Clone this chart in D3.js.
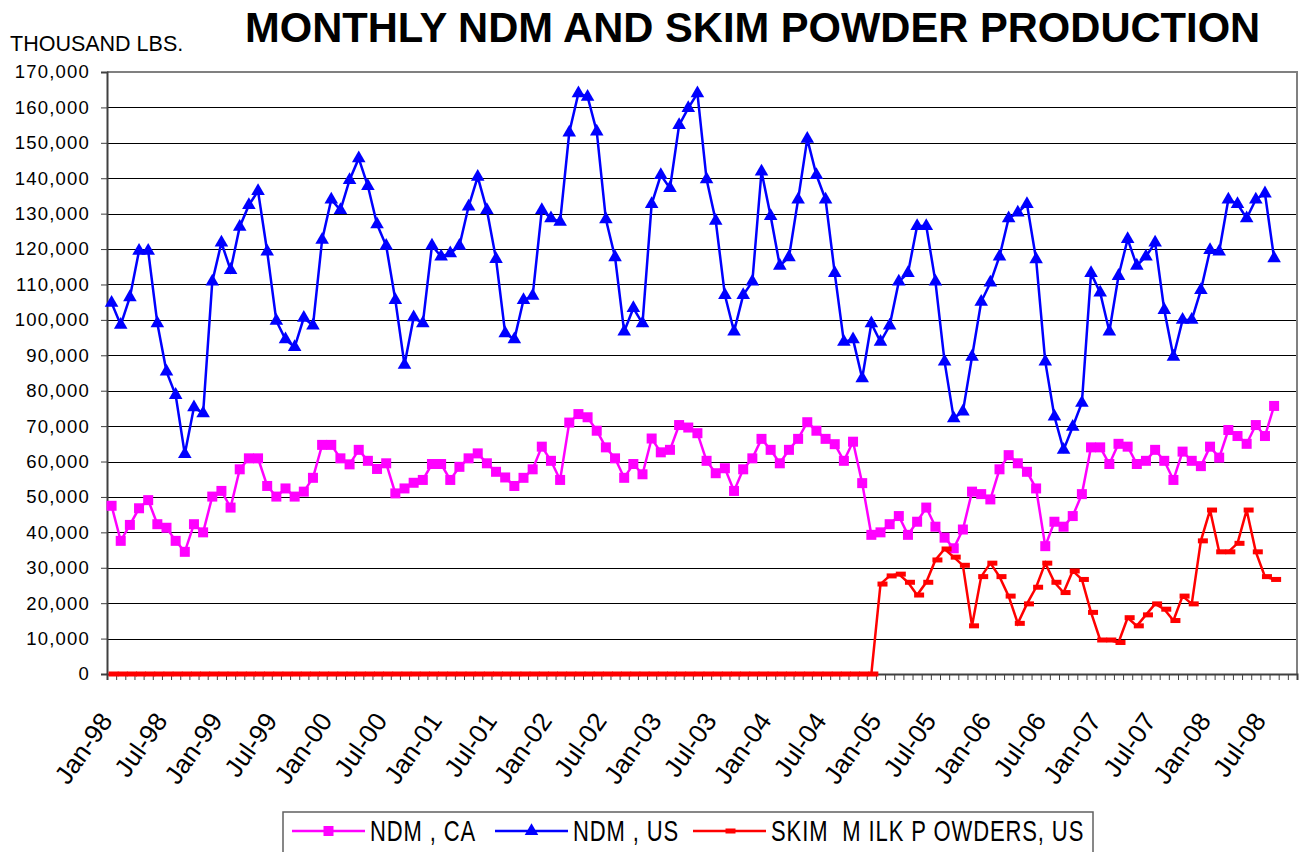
<!DOCTYPE html>
<html>
<head>
<meta charset="utf-8"/>
<script src="https://d3js.org/d3.v7.min.js"></script>
<style>
  body { margin: 0; background: #fff; }
  text { font-family: "Liberation Sans", Arial, sans-serif; fill: #000; }
</style>
</head>
<body>
<svg id="chart" width="1302" height="852"></svg>
<script>
// monthly production, thousand lbs, Jan-98 .. Aug-08
const ndmCA = [
  47500, 37600, 42100, 46800, 49100, 42300, 41300, 37600, 34500, 42300, 40000, 50100,
  51700, 47000, 57800, 60900, 60900, 53100, 50100, 52400, 50100, 51500, 55400, 64700,
  64700, 60900, 59200, 63300, 60200, 57900, 59500, 51000, 52400, 54000, 54800, 59300,
  59300, 54800, 58500, 60900, 62300, 59500, 57100, 55500, 53100, 55400, 57800, 64200,
  60200, 54800, 71000, 73400, 72500, 68700, 64000, 60900, 55400, 59300, 56400, 66500,
  62600, 63300, 70300, 69600, 68000, 60200, 56700, 58100, 51700, 57800, 60900, 66400,
  63300, 59500, 63300, 66400, 71100, 68700, 66400, 64900, 60200, 65600, 53900, 39300,
  40000, 42300, 44600, 39300, 43000, 47000, 41600, 38500, 35500, 40800, 51500, 50800,
  49300, 57800, 61800, 59500, 57100, 52400, 36100, 43000, 41600, 44600, 50800, 64000,
  64000, 59300, 65000, 64200, 59300, 60200, 63300, 60200, 54800, 62800, 60200, 58700,
  64200, 61100, 68900, 67200, 65000, 70300, 67200, 75700
];
const ndmUS = [
  104800, 98600, 106400, 119500, 119500, 99000, 85400, 78800, 62100, 75300, 73600, 110800,
  121800, 114100, 126300, 132400, 136400, 119300, 99700, 94500, 92300, 100600, 98400, 122600,
  134000, 131000, 139500, 145600, 137800, 127000, 120900, 105600, 87300, 100700, 99000, 121000,
  117900, 118800, 120900, 132000, 140400, 131000, 117200, 96200, 94500, 105600, 106800, 131000,
  128700, 127700, 152900, 164000, 163000, 153200, 128400, 117700, 96700, 103300, 99000, 132700,
  140900, 137200, 155000, 159800, 164000, 139700, 128000, 107000, 96700, 107000, 110800, 141900,
  129300, 115300, 117700, 134000, 151100, 140900, 134000, 113200, 93800, 94500, 83500, 99000,
  93800, 98400, 110800, 113200, 126500, 126500, 110800, 88200, 72200, 74100, 89600, 105100,
  110500, 117900, 128700, 130300, 132700, 117100, 88200, 72700, 63300, 69800, 76600, 113200,
  107700, 96700, 112400, 122800, 115300, 117900, 121800, 102800, 89600, 100000, 100000, 108400,
  119700, 119300, 134000, 132700, 128700, 134000, 135700, 117400
];
const skimUS = [
  0, 0, 0, 0, 0, 0, 0, 0, 0, 0, 0, 0,
  0, 0, 0, 0, 0, 0, 0, 0, 0, 0, 0, 0,
  0, 0, 0, 0, 0, 0, 0, 0, 0, 0, 0, 0,
  0, 0, 0, 0, 0, 0, 0, 0, 0, 0, 0, 0,
  0, 0, 0, 0, 0, 0, 0, 0, 0, 0, 0, 0,
  0, 0, 0, 0, 0, 0, 0, 0, 0, 0, 0, 0,
  0, 0, 0, 0, 0, 0, 0, 0, 0, 0, 0, 0,
  25400, 27700, 28200, 25900, 22300, 25900, 32200, 35300, 33000, 30700, 13600, 27500,
  31300, 27500, 22000, 14300, 19800, 24500, 31300, 25900, 23000, 29100, 26700, 17400,
  9600, 9600, 8900, 15900, 13600, 16700, 19800, 18300, 15100, 22000, 19800, 37600,
  46300, 34500, 34500, 36900, 46300, 34500, 27500, 26700
];
const yTicks = [0, 10000, 20000, 30000, 40000, 50000, 60000, 70000, 80000,
  90000, 100000, 110000, 120000, 130000, 140000, 150000, 160000, 170000];
const xLabels = ["Jan-98", "Jul-98", "Jan-99", "Jul-99", "Jan-00", "Jul-00", "Jan-01", "Jul-01",
  "Jan-02", "Jul-02", "Jan-03", "Jul-03", "Jan-04", "Jul-04", "Jan-05", "Jul-05",
  "Jan-06", "Jul-06", "Jan-07", "Jul-07", "Jan-08", "Jul-08"];

// axis runs Jan-98 .. Oct-08
const months = d3.timeMonth.range(new Date(1998, 0, 1), new Date(2008, 10, 1));
const fmt = d3.timeFormat("%b-%y");

const svg = d3.select("#chart");
const plotL = 107, plotR = 1297, plotT = 72, plotB = 674;

const x = d3.scaleBand().domain(months.map(fmt)).range([plotL, plotR]);
const xc = (d, i) => x(fmt(months[i])) + x.bandwidth() / 2;
const y = d3.scaleLinear().domain([0, 170000]).range([plotB, plotT]);

// titles
svg.append("text")
  .attr("x", 245).attr("y", 42)
  .style("font-size", "41.7px").style("font-weight", "bold")
  .text("MONTHLY NDM AND SKIM POWDER PRODUCTION");
svg.append("text")
  .attr("x", 10).attr("y", 51)
  .style("font-size", "21.5px")
  .text("THOUSAND LBS.");

// grid
svg.append("g").selectAll("line")
  .data(yTicks.filter(d => d > 0 && d < 170000))
  .enter().append("line")
  .attr("x1", plotL).attr("x2", plotR)
  .attr("y1", d => Math.round(y(d)) + 0.5).attr("y2", d => Math.round(y(d)) + 0.5)
  .attr("stroke", "#000").attr("stroke-width", 1);

// plot border (top + right)
svg.append("path")
  .attr("d", `M${plotL},${plotT} H${plotR} V${plotB}`)
  .attr("fill", "none").attr("stroke", "#808080").attr("stroke-width", 2);

// y axis
const yAxis = svg.append("g")
  .attr("transform", `translate(${plotL},0)`)
  .call(d3.axisLeft(y).tickValues(yTicks).tickFormat(d3.format(",")).tickSize(6).tickPadding(11));
yAxis.select(".domain").attr("stroke", "#404040").attr("stroke-width", 2);
yAxis.selectAll(".tick line").attr("stroke", "#404040");
yAxis.selectAll("text")
  .style("font-family", '"Liberation Sans", Arial, sans-serif')
  .style("font-size", "18.5px").style("letter-spacing", "1.2px").attr("fill", "#000");

// x axis: a tick at every month boundary
const xb = d3.scaleLinear().domain([0, months.length]).range([plotL, plotR]);
const xAxis = svg.append("g")
  .attr("transform", `translate(0,${plotB})`)
  .call(d3.axisBottom(xb).tickValues(d3.range(0, months.length + 1)).tickFormat("").tickSize(6));
xAxis.select(".domain").attr("stroke", "#404040").attr("stroke-width", 2);
xAxis.selectAll(".tick line").attr("stroke", "#404040");

// rotated month labels
const xLab = svg.append("g")
  .attr("transform", `translate(0,${plotB})`)
  .call(d3.axisBottom(x).tickValues(xLabels).tickSize(0).tickPadding(0));
xLab.select(".domain").remove();
xLab.selectAll("text")
  .style("font-family", '"Liberation Sans", Arial, sans-serif')
  .style("font-size", "26px").attr("fill", "#000")
  .attr("text-anchor", "end")
  .attr("dy", 0).attr("y", 0)
  .attr("transform", "translate(2,47) rotate(-55)");

// series
const line = d3.line().x(xc).y(d => y(d));

svg.append("path").datum(ndmCA)
  .attr("d", line).attr("fill", "none").attr("stroke", "#ff00ff").attr("stroke-width", 2.5);
svg.append("g").selectAll("rect").data(ndmCA).enter().append("rect")
  .attr("x", (d, i) => xc(d, i) - 5).attr("y", d => y(d) - 5)
  .attr("width", 10).attr("height", 10).attr("fill", "#ff00ff");

svg.append("path").datum(ndmUS)
  .attr("d", line).attr("fill", "none").attr("stroke", "#0000ff").attr("stroke-width", 2.5);
const tri = d3.symbol(d3.symbolTriangle, 80);
svg.append("g").selectAll("path").data(ndmUS).enter().append("path")
  .attr("d", tri)
  .attr("transform", (d, i) => `translate(${xc(d, i)},${y(d)})`)
  .attr("fill", "#0000ff");

svg.append("path").datum(skimUS)
  .attr("d", line).attr("fill", "none").attr("stroke", "#ff0000").attr("stroke-width", 2.5);
svg.append("g").selectAll("rect").data(skimUS).enter().append("rect")
  .attr("x", (d, i) => xc(d, i) - 3).attr("y", d => y(d) - 2.5)
  .attr("width", 10).attr("height", 5).attr("fill", "#ff0000");

// legend
const lg = svg.append("g");
lg.append("rect").attr("x", 283).attr("y", 812).attr("width", 810).attr("height", 60)
  .attr("fill", "#fff").attr("stroke", "#606060").attr("stroke-width", 1.5);
const items = [
  { name: "NDM , CA", color: "#ff00ff", x1: 292, kind: "square" },
  { name: "NDM , US", color: "#0000ff", x1: 495, kind: "tri" },
  { name: "SKIM  M ILK P OWDERS, US", color: "#ff0000", x1: 693, kind: "dash" }
];
items.forEach(it => {
  const cy = 831;
  lg.append("line").attr("x1", it.x1).attr("x2", it.x1 + 73).attr("y1", cy).attr("y2", cy)
    .attr("stroke", it.color).attr("stroke-width", 2.5);
  const mx = it.x1 + 36.5;
  if (it.kind === "square") {
    lg.append("rect").attr("x", mx - 5).attr("y", cy - 5).attr("width", 10).attr("height", 10).attr("fill", it.color);
  } else if (it.kind === "tri") {
    lg.append("path").attr("d", tri).attr("transform", `translate(${mx},${cy})`).attr("fill", it.color);
  } else {
    lg.append("rect").attr("x", mx - 4).attr("y", cy - 2.5).attr("width", 10).attr("height", 5).attr("fill", it.color);
  }
  lg.append("text")
    .attr("transform", `translate(${it.x1 + 78},${cy + 10}) scale(1,1.3)`)
    .style("font-size", "22px").style("letter-spacing", "0.9px")
    .style("white-space", "pre")
    .text(it.name);
});
</script>
</body>
</html>
